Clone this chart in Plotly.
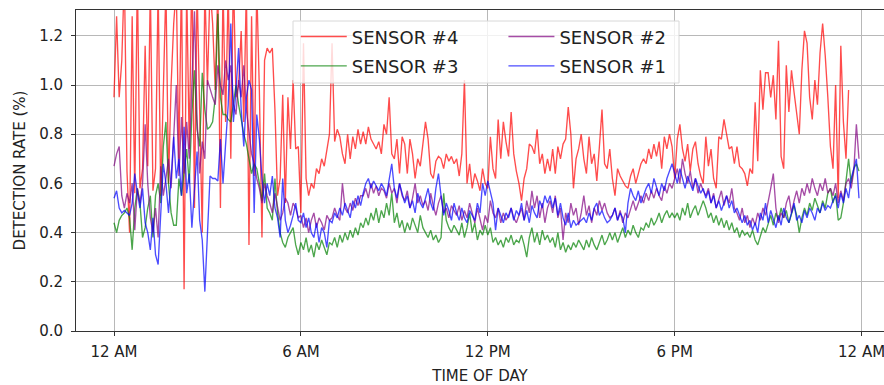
import plotly.graph_objects as go

# ---- data: 5-minute samples, values in % ----
sensor4 = [
    0.95,1.28,0.95,1.10,1.45,0.65,0.40,1.28,0.56,1.45,0.58,0.66,
    1.16,0.67,1.40,0.57,0.66,1.40,0.55,1.00,1.40,0.60,1.00,1.25,
    1.40,0.70,1.45,0.17,1.40,0.74,1.50,0.50,1.40,0.90,0.40,1.40,
    1.00,1.40,1.25,0.98,1.40,0.50,1.40,0.85,1.40,0.70,1.45,0.95,
    1.00,1.22,0.85,1.40,0.35,1.28,0.63,1.40,0.98,0.38,1.10,1.15,
    1.13,1.15,0.90,0.55,0.62,0.96,0.52,0.95,0.74,1.02,0.74,0.75,
    0.48,1.17,0.62,0.55,0.60,0.58,0.66,0.64,0.70,0.67,0.74,0.80,
    1.17,0.77,0.82,0.79,0.72,0.68,0.80,0.70,0.79,0.74,0.82,0.76,
    0.81,0.76,0.83,0.78,0.76,0.74,0.77,0.72,0.84,0.80,0.95,0.72,
    0.70,0.78,0.64,0.79,0.76,0.64,0.78,0.72,0.62,0.70,0.67,0.76,
    0.85,0.78,0.64,0.62,0.69,0.71,0.70,0.66,0.72,0.69,0.71,0.68,
    0.70,0.63,0.72,1.02,0.60,0.68,0.58,0.64,0.61,0.57,0.66,0.60,
    0.58,0.79,0.66,0.62,0.86,0.70,0.85,0.77,0.71,0.89,0.72,0.65,
    0.60,0.53,0.62,0.66,0.76,0.75,0.72,0.82,0.68,0.72,0.64,0.70,
    0.65,0.74,0.64,0.75,0.70,0.76,0.78,0.91,0.80,0.58,0.70,0.74,
    0.80,0.70,0.64,0.79,0.68,0.72,0.61,0.75,0.90,0.68,0.66,0.74,
    0.62,0.55,0.66,0.63,0.61,0.59,0.58,0.63,0.66,0.60,0.64,0.68,
    0.70,0.68,0.74,0.70,0.76,0.71,0.77,0.66,0.79,0.74,0.80,0.75,
    0.62,0.78,0.84,0.74,0.69,0.76,0.65,0.74,0.77,0.68,0.63,0.60,
    0.79,0.67,0.74,0.62,0.58,0.79,0.78,0.86,0.80,0.74,0.75,0.68,
    0.75,0.67,0.66,0.64,0.59,0.66,0.64,0.93,0.69,1.06,0.90,1.05,
    1.05,0.95,1.04,0.86,1.18,0.71,0.66,1.08,0.89,1.06,0.97,0.88,
    0.80,1.06,1.22,1.17,0.95,0.86,1.02,0.92,1.13,1.25,1.12,0.95,
    0.75,0.66,1.00,0.54,1.16,0.85,0.70,0.98,
]

sensor3 = [
    0.44,0.40,0.45,0.47,0.48,0.50,0.46,0.33,0.50,0.58,0.52,0.38,
    0.42,0.50,0.55,0.38,0.55,0.60,0.52,0.75,0.85,0.60,0.48,0.43,
    0.43,0.62,0.55,0.65,0.74,0.60,0.88,1.06,0.82,0.75,1.05,0.90,
    0.82,0.83,0.85,0.95,1.29,0.95,0.88,0.88,0.86,0.85,0.92,1.00,
    0.92,0.86,0.80,0.76,0.70,0.64,0.68,0.66,0.60,0.53,0.64,0.50,
    0.48,0.45,0.62,0.48,0.40,0.36,0.34,0.38,0.40,0.42,0.35,0.31,
    0.36,0.33,0.38,0.32,0.35,0.30,0.36,0.33,0.37,0.34,0.31,0.36,
    0.35,0.38,0.34,0.39,0.36,0.40,0.37,0.41,0.38,0.42,0.39,0.44,
    0.42,0.46,0.43,0.48,0.45,0.50,0.44,0.49,0.46,0.52,0.47,0.56,
    0.44,0.48,0.42,0.45,0.40,0.44,0.41,0.46,0.43,0.40,0.47,0.42,
    0.40,0.38,0.41,0.37,0.39,0.36,0.38,0.56,0.45,0.42,0.40,0.43,
    0.41,0.39,0.44,0.38,0.42,0.48,0.40,0.44,0.37,0.41,0.39,0.43,
    0.39,0.42,0.36,0.38,0.35,0.37,0.34,0.38,0.36,0.39,0.35,0.37,
    0.36,0.39,0.35,0.30,0.38,0.42,0.36,0.40,0.35,0.41,0.37,0.39,
    0.36,0.38,0.34,0.40,0.33,0.36,0.32,0.35,0.33,0.36,0.34,0.37,
    0.35,0.33,0.37,0.34,0.38,0.35,0.33,0.36,0.39,0.35,0.37,0.40,
    0.37,0.40,0.36,0.39,0.42,0.38,0.41,0.39,0.43,0.40,0.38,0.42,
    0.41,0.44,0.42,0.46,0.43,0.45,0.48,0.44,0.47,0.49,0.46,0.48,
    0.46,0.48,0.45,0.50,0.47,0.52,0.46,0.49,0.51,0.47,0.50,0.53,
    0.50,0.46,0.48,0.44,0.47,0.43,0.46,0.42,0.45,0.41,0.44,0.40,
    0.42,0.38,0.41,0.39,0.40,0.38,0.41,0.37,0.35,0.39,0.42,0.40,
    0.44,0.47,0.43,0.48,0.45,0.50,0.46,0.49,0.44,0.48,0.51,0.47,
    0.40,0.46,0.50,0.47,0.52,0.49,0.54,0.51,0.48,0.53,0.50,0.56,
    0.58,0.52,0.56,0.45,0.46,0.52,0.62,0.70,0.60,0.66,0.68,0.65,
]

sensor2 = [
    0.67,0.72,0.75,0.55,0.50,0.56,0.52,0.60,0.41,0.58,0.52,0.60,
    0.84,0.60,0.46,0.40,0.50,0.38,0.67,0.55,0.62,0.70,0.58,0.80,
    1.00,0.63,0.87,0.64,0.85,0.70,1.00,1.30,0.86,0.64,0.77,0.70,
    1.02,0.98,0.95,0.92,1.08,1.00,0.96,1.10,1.02,1.08,0.92,0.88,
    1.02,0.95,1.08,0.90,0.80,0.72,0.68,0.62,0.58,0.52,0.60,0.55,
    0.52,0.48,0.56,0.50,0.45,0.48,0.54,0.52,0.47,0.52,0.50,0.46,
    0.47,0.42,0.46,0.40,0.45,0.48,0.42,0.46,0.44,0.41,0.47,0.45,
    0.46,0.50,0.47,0.45,0.60,0.50,0.48,0.52,0.49,0.54,0.51,0.55,
    0.55,0.58,0.54,0.60,0.56,0.59,0.55,0.58,0.57,0.54,0.60,0.56,
    0.58,0.52,0.60,0.55,0.53,0.57,0.50,0.54,0.60,0.52,0.55,0.51,
    0.53,0.49,0.56,0.51,0.47,0.52,0.55,0.48,0.50,0.46,0.51,0.49,
    0.47,0.51,0.45,0.49,0.46,0.52,0.48,0.44,0.50,0.46,0.41,0.47,
    0.44,0.53,0.48,0.46,0.50,0.44,0.48,0.45,0.47,0.50,0.46,0.44,
    0.47,0.50,0.45,0.53,0.48,0.57,0.50,0.55,0.46,0.52,0.44,0.50,
    0.53,0.48,0.55,0.46,0.50,0.37,0.48,0.44,0.52,0.47,0.50,0.43,
    0.48,0.55,0.47,0.51,0.44,0.50,0.47,0.53,0.49,0.52,0.48,0.46,
    0.47,0.50,0.45,0.49,0.44,0.48,0.46,0.50,0.53,0.49,0.52,0.55,
    0.52,0.56,0.53,0.57,0.54,0.58,0.55,0.53,0.59,0.56,0.60,0.58,
    0.62,0.66,0.60,0.70,0.64,0.60,0.65,0.58,0.62,0.56,0.60,0.57,
    0.55,0.58,0.52,0.56,0.50,0.54,0.57,0.51,0.55,0.52,0.58,0.50,
    0.48,0.45,0.50,0.44,0.47,0.42,0.46,0.43,0.48,0.45,0.50,0.47,
    0.52,0.58,0.64,0.50,0.44,0.48,0.46,0.52,0.55,0.48,0.53,0.57,
    0.52,0.58,0.55,0.60,0.56,0.62,0.58,0.55,0.60,0.57,0.62,0.56,
    0.58,0.55,0.60,0.52,0.57,0.53,0.60,0.62,0.58,0.65,0.84,0.70,
]

sensor1 = [
    0.54,0.57,0.50,0.48,0.49,0.48,0.47,0.52,0.64,0.56,0.50,0.58,
    0.44,0.40,0.33,0.46,0.31,0.27,0.50,0.68,0.60,0.48,0.62,0.79,
    0.62,0.70,0.55,0.83,0.56,0.64,0.42,0.58,0.73,0.45,0.37,0.16,
    0.40,0.63,0.62,0.62,0.61,0.78,0.60,0.77,0.92,1.25,0.85,0.98,
    1.15,0.90,0.75,0.95,1.02,0.98,0.48,0.88,0.78,0.62,0.52,0.60,
    0.55,0.63,0.50,0.46,0.38,0.62,0.45,0.40,0.43,0.47,0.52,0.45,
    0.44,0.48,0.42,0.46,0.40,0.38,0.44,0.36,0.42,0.40,0.34,0.45,
    0.44,0.48,0.46,0.50,0.47,0.52,0.49,0.46,0.53,0.50,0.55,0.51,
    0.56,0.60,0.62,0.58,0.61,0.59,0.57,0.60,0.58,0.55,0.62,0.68,
    0.58,0.54,0.60,0.56,0.52,0.55,0.50,0.53,0.48,0.56,0.52,0.50,
    0.54,0.58,0.52,0.49,0.58,0.64,0.55,0.47,0.52,0.49,0.45,0.52,
    0.48,0.45,0.50,0.46,0.44,0.49,0.47,0.45,0.52,0.48,0.60,0.55,
    0.61,0.57,0.52,0.41,0.50,0.47,0.44,0.48,0.46,0.50,0.45,0.49,
    0.47,0.52,0.45,0.49,0.44,0.51,0.48,0.46,0.53,0.50,0.55,0.52,
    0.55,0.50,0.54,0.47,0.52,0.46,0.43,0.48,0.42,0.45,0.43,0.44,
    0.45,0.46,0.44,0.48,0.45,0.50,0.52,0.47,0.49,0.46,0.44,0.45,
    0.47,0.50,0.45,0.48,0.46,0.40,0.52,0.58,0.55,0.53,0.57,0.52,
    0.55,0.58,0.60,0.56,0.62,0.58,0.55,0.60,0.57,0.62,0.65,0.68,
    0.64,0.60,0.66,0.62,0.58,0.63,0.60,0.57,0.62,0.59,0.56,0.58,
    0.54,0.57,0.52,0.55,0.50,0.53,0.49,0.52,0.55,0.50,0.53,0.48,
    0.50,0.47,0.44,0.47,0.43,0.45,0.41,0.44,0.40,0.48,0.45,0.52,
    0.44,0.49,0.45,0.42,0.47,0.43,0.50,0.46,0.44,0.48,0.52,0.45,
    0.47,0.44,0.49,0.46,0.50,0.48,0.45,0.50,0.48,0.52,0.49,0.51,
    0.50,0.53,0.55,0.50,0.56,0.52,0.58,0.54,0.62,0.66,0.70,0.54,
]

series_names = ["SENSOR #4", "SENSOR #3", "SENSOR #2", "SENSOR #1"]
series_colors = ["rgba(255,0,0,0.7)", "rgba(0,128,0,0.7)",
                 "rgba(128,0,128,0.7)", "rgba(0,0,255,0.7)"]
tick_hours = [0, 6, 12, 18, 24]
tick_labels = ["12 AM", "6 AM", "12 PM", "6 PM", "12 AM"]

series = [sensor4, sensor3, sensor2, sensor1]
legends = ["legend", "legend", "legend2", "legend2"]

fig = go.Figure()
for name, vals, col, lg in zip(series_names, series, series_colors, legends):
    hours = [i / 12 for i in range(len(vals))]
    fig.add_trace(go.Scatter(
        x=hours, y=vals, mode="lines", name=name,
        line=dict(color=col, width=1.35), legend=lg, legendgroup=name,
    ))

font = "DejaVu Sans"
legend_common = dict(xanchor="left", yanchor="top",
                     bgcolor="rgba(0,0,0,0)", borderwidth=0,
                     font=dict(size=18, color="#222"), tracegroupgap=3,
                     itemwidth=46)
fig.update_layout(
    width=884, height=385,
    margin=dict(l=76, r=0, t=10, b=54),
    paper_bgcolor="white", plot_bgcolor="white",
    font=dict(family=font, size=15, color="#222"),
    xaxis=dict(
        range=[-1.22, 24.72], tickvals=tick_hours, ticktext=tick_labels,
        showgrid=True, gridcolor="#b8b8b8", gridwidth=1,
        showline=True, linecolor="#333", linewidth=1, mirror=True,
        ticks="outside", ticklen=4, tickcolor="#333",
        zeroline=False, automargin=False, ticklabeloverflow="allow",
        ticklabelstandoff=3,
        title=dict(text="TIME OF DAY", standoff=12, font=dict(size=15)),
        tickfont=dict(size=15),
    ),
    yaxis=dict(
        range=[0, 1.305], tickvals=[0, 0.2, 0.4, 0.6, 0.8, 1.0, 1.2],
        ticktext=["0.0", "0.2", "0.4", "0.6", "0.8", "1.0", "1.2"],
        showgrid=True, gridcolor="#b8b8b8", gridwidth=1,
        showline=True, linecolor="#333", linewidth=1, mirror=False,
        ticks="outside", ticklen=4, tickcolor="#333",
        zeroline=False, automargin=False, ticklabelstandoff=5,
        title=dict(text="DETECTION RATE (%)", standoff=9, font=dict(size=15)),
        tickfont=dict(size=15),
    ),
    legend=dict(x=0.272, y=0.974, **legend_common),
    legend2=dict(x=0.529, y=0.974, **legend_common),
    shapes=[dict(type="rect", xref="paper", yref="paper",
                 x0=0.2686, x1=0.7463, y0=0.7726, y1=0.9657,
                 line=dict(color="#d8d8d8", width=1),
                 fillcolor="rgba(255,255,255,0.8)", layer="above")],
    showlegend=True,
)
fig.write_html("out.html")
